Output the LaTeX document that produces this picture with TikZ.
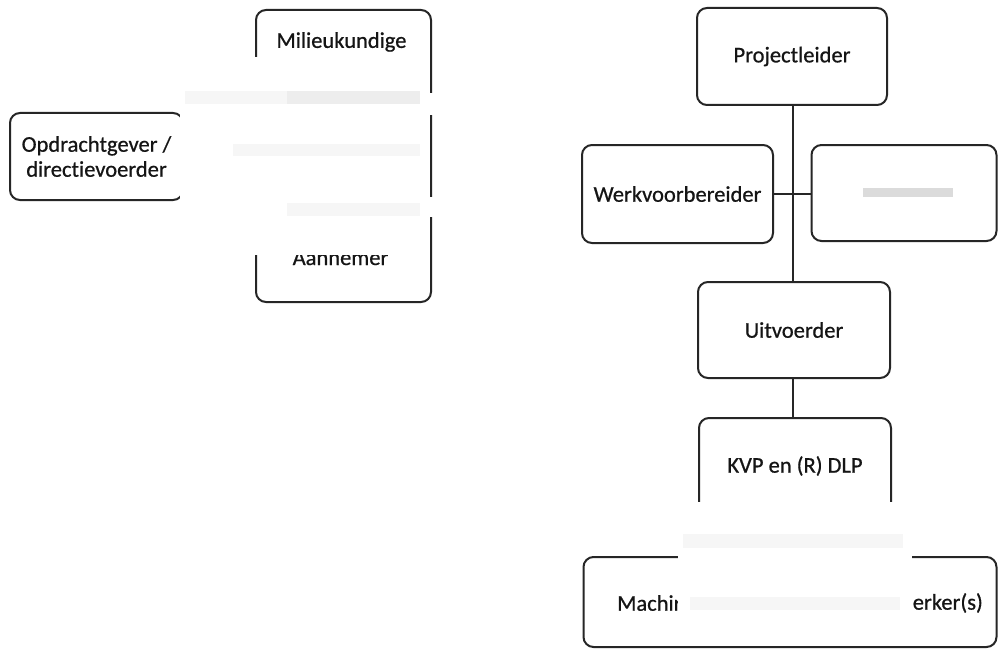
\documentclass[tikz,border=0pt]{standalone}
\usepackage{fontspec}
\setmainfont{Carlito}[Ligatures={NoCommon}, FakeBold=0.7]
\definecolor{linec}{HTML}{262626}
\definecolor{txtc}{HTML}{151515}
\newcommand\diagfont{\fontsize{22.5}{25}\selectfont}
\begin{document}
\begin{tikzpicture}[x=1pt,y=-1pt,
  box/.style={draw=linec, line width=2pt, rounded corners=10pt, fill=white, inner sep=0pt, font=\diagfont, text=txtc, align=center},
  conn/.style={draw=linec, line width=2pt},
  patch/.style={fill=white, draw=none},
  smudge/.style={fill=black, fill opacity=0.035, draw=none},
  lbl/.style={font=\diagfont, text=txtc, inner sep=0pt}]
\fill[white] (0,0) rectangle (998,650);
\useasboundingbox (0,0) rectangle (998,650);

% left group
\node[box, minimum width=173pt, minimum height=87pt] (opd) at (96.5,156.5) {Opdrachtgever /\\directievoerder};
\node[box, minimum width=175pt, minimum height=292pt] (tall) at (343.5,156) {};
\node[lbl] (milieu) at (341.5,42) {Milieukundige};
\node[lbl, anchor=base] (aann) at (340.5,265) {Aannemer};

% right group
\node[box, minimum width=190pt, minimum height=97pt] (proj) at (792,56.5) {Projectleider};
\node[box, minimum width=191pt, minimum height=98pt] (werk) at (677.5,194) {Werkvoorbereider};
\node[box, minimum width=185pt, minimum height=96pt] (side) at (904,193) {};
\node[box, minimum width=192pt, minimum height=96pt] (uitv) at (794,330) {Uitvoerder};
\node[box, minimum width=192pt, minimum height=96pt] (kvp) at (795,466) {KVP en (R) DLP};
\node[box, minimum width=413pt, minimum height=90pt] (mach) at (790,602) {};
\node[lbl, anchor=west] (machl) at (617,603) {Machir};
\node[lbl, anchor=east] (machr) at (983,603) {erker(s)};

% connectors
\coordinate (junc) at (793,194);
\draw[conn] (proj.south -| junc) -- (uitv.north -| junc);
\draw[conn] (werk.east) -- (side.west |- werk.east);
\draw[conn] (uitv.south -| junc) -- (kvp.north -| junc);

% redaction patches
\fill[patch] (180,57) rectangle (429.2,255);
\fill[patch] (425,93) rectangle (442,115);
\fill[patch] (425,197) rectangle (442,217);
\fill[patch] (678,502) rectangle (912,628);

% faint blurred remnants
\fill[smudge] (185,91) rectangle (420,104);
\fill[smudge] (287,91) rectangle (420,104);
\fill[smudge] (233,144) rectangle (420,156);
\fill[smudge] (287,203) rectangle (420,216);
\fill[smudge] (683,534) rectangle (903,548);
\fill[smudge] (690,597) rectangle (900,610);
\fill[black, fill opacity=0.14] (863,188) rectangle (953,197);
\end{tikzpicture}
\end{document}
